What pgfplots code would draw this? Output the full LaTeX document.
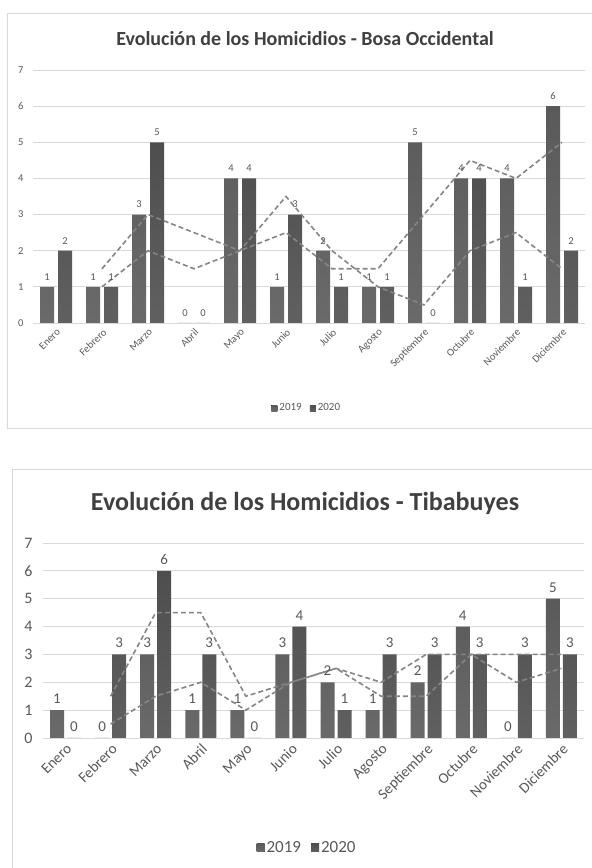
\documentclass[border=0pt]{standalone}
\usepackage{fontspec}
\setmainfont{Carlito}
\usepackage{pgfplots}
\pgfplotsset{compat=1.18}
\definecolor{gridc}{HTML}{D9D9D9}
\definecolor{labc}{HTML}{595959}
\definecolor{titc}{HTML}{404040}
\definecolor{boxc}{HTML}{D9D9D9}
\definecolor{at}{HTML}{5A5A5A}
\definecolor{ab}{HTML}{6A6A6A}
\definecolor{bt}{HTML}{4E4E4E}
\definecolor{bb}{HTML}{606060}
\definecolor{mac}{HTML}{858585}
\pgfplotsset{
  homstyle/.style={
    scale only axis,
    xmin=-0.5, xmax=11.5, ymin=0, ymax=7,
    xtick={0,...,11},
    xticklabels={Enero,Febrero,Marzo,Abril,Mayo,Junio,Julio,Agosto,Septiembre,Octubre,Noviembre,Diciembre},
    ytick={0,...,7},
    axis line style={draw=none},
    major tick length=0pt,
    ymajorgrids,
    grid style={draw=gridc, line width=0.9pt},
    /pgf/number format/assume math mode=true,
    tick label style={text=labc},
    x tick label style={rotate=45, anchor=north east},
    legend columns=2,
    legend image code/.code={\fill[##1] (0pt,-3pt) rectangle (6pt,3pt);},
    clip=false,
  },
  ma/.style={forget plot, sharp plot, draw=mac, line width=1.6pt, dash pattern=on 5pt off 3pt, mark=none},
}
\begin{document}
\begin{tikzpicture}
\useasboundingbox (0,0) rectangle (592pt,868pt);
\fill[white] (0,0) rectangle (592pt,868pt);
% frames
\draw[boxc, line width=0.8pt] (7pt,440pt) rectangle (600pt,855pt);
\draw[boxc, line width=0.8pt] (12pt,-10pt) rectangle (600pt,399pt);
% titles
\node[text=titc, font=\fontsize{20}{24}\selectfont\bfseries] at (305pt,829pt) {Evolución de los Homicidios - Bosa Occidental};
\node[text=titc, font=\fontsize{26}{30}\selectfont\bfseries] at (305pt,365pt) {Evolución de los Homicidios - Tibabuyes};

% ---------- Top chart ----------
\begin{axis}[homstyle,
  at={(33pt,545pt)}, anchor=south west,
  width=552pt, height=253pt,
  tick label style={font=\fontsize{10.5}{12}\selectfont},
  x tick label style={font=\fontsize{10.5}{12}\selectfont},
  y tick label style={xshift=-6pt},
  legend style={at={(0.496,-0.336)}, anchor=center, draw=none, fill=none,
    font=\fontsize{11}{12}\selectfont, text=labc,
    /tikz/every even column/.append style={column sep=6pt}},
]
\addplot[ybar, bar width=14pt, bar shift=-9pt, draw=none, top color=at, bottom color=ab,
  nodes near coords, every node near coord/.append style={font=\fontsize{10.5}{12}\selectfont, text=labc, yshift=3pt, xshift=-9pt}]
  coordinates {(0,1) (1,1) (2,3) (3,0) (4,4) (5,1) (6,2) (7,1) (8,5) (9,4) (10,4) (11,6)};
\addlegendentry{2019}
\addplot[ybar, bar width=14pt, bar shift=9pt, draw=none, top color=bt, bottom color=bb,
  nodes near coords, every node near coord/.append style={font=\fontsize{10.5}{12}\selectfont, text=labc, yshift=3pt, xshift=9pt}]
  coordinates {(0,2) (1,1) (2,5) (3,0) (4,4) (5,3) (6,1) (7,1) (8,0) (9,4) (10,1) (11,2)};
\addlegendentry{2020}
\addplot[ma] coordinates {(1,1) (2,2) (3,1.5) (4,2) (5,2.5) (6,1.5) (7,1.5) (8,3) (9,4.5) (10,4) (11,5)};
\addplot[ma] coordinates {(1,1.5) (2,3) (3,2.5) (4,2) (5,3.5) (6,2) (7,1) (8,0.5) (9,2) (10,2.5) (11,1.5)};
\end{axis}

% ---------- Bottom chart ----------
\begin{axis}[homstyle,
  at={(43pt,130pt)}, anchor=south west,
  width=541pt, height=195pt,
  tick label style={font=\fontsize{16}{18}\selectfont},
  x tick label style={font=\fontsize{15}{17}\selectfont},
  y tick label style={xshift=-7pt},
  legend style={at={(0.488,-0.564)}, anchor=center, draw=none, fill=none,
    font=\fontsize{17}{19}\selectfont, text=labc,
    /tikz/every even column/.append style={column sep=8pt}},
  legend image code/.code={\fill[#1] (0pt,-4pt) rectangle (8pt,4pt);},
]
\addplot[ybar, bar width=14pt, bar shift=-8.5pt, draw=none, top color=at, bottom color=ab,
  nodes near coords, every node near coord/.append style={font=\fontsize{15}{17}\selectfont, text=labc, yshift=3pt, xshift=-8.5pt}]
  coordinates {(0,1) (1,0) (2,3) (3,1) (4,1) (5,3) (6,2) (7,1) (8,2) (9,4) (10,0) (11,5)};
\addlegendentry{2019}
\addplot[ybar, bar width=14pt, bar shift=8.5pt, draw=none, top color=bt, bottom color=bb,
  nodes near coords, every node near coord/.append style={font=\fontsize{15}{17}\selectfont, text=labc, yshift=3pt, xshift=8.5pt}]
  coordinates {(0,0) (1,3) (2,6) (3,3) (4,0) (5,4) (6,1) (7,3) (8,3) (9,3) (10,3) (11,3)};
\addlegendentry{2020}
\addplot[ma] coordinates {(1,0.5) (2,1.5) (3,2) (4,1) (5,2) (6,2.5) (7,1.5) (8,1.5) (9,3) (10,2) (11,2.5)};
\addplot[ma] coordinates {(1,1.5) (2,4.5) (3,4.5) (4,1.5) (5,2) (6,2.5) (7,2) (8,3) (9,3) (10,3) (11,3)};
\end{axis}
\end{tikzpicture}
\end{document}
